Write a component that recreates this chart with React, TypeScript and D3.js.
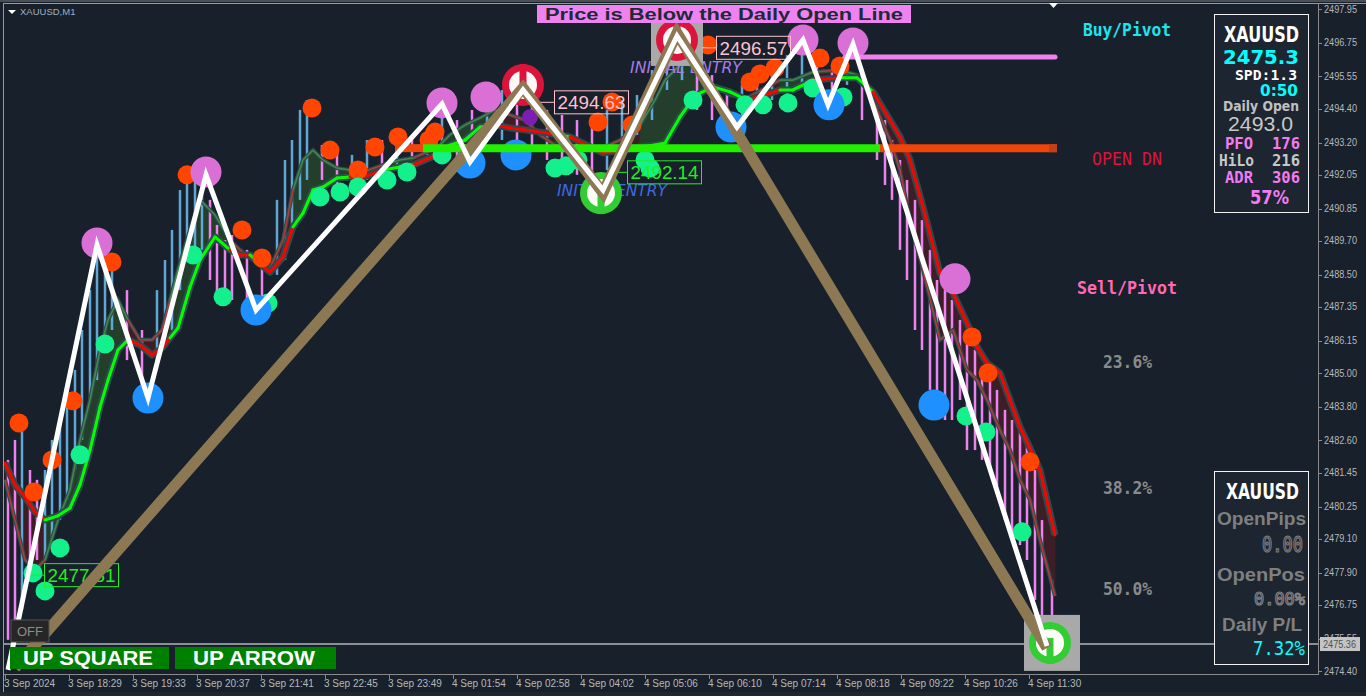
import React from "react";
import * as d3 from "d3";

// ---------- axes ----------
const priceTicks = [2497.95, 2496.75, 2495.55, 2494.4, 2493.2, 2492.05, 2490.85, 2489.7, 2488.5, 2487.35, 2486.15, 2485.0, 2483.8, 2482.6, 2481.45, 2480.25, 2479.1, 2477.9, 2476.75, 2475.55, 2474.4];
const timeTickBars = [0, 64, 128, 192, 256, 320, 384, 448, 512, 576, 640, 704, 768, 832, 896, 960, 1024];
const timeLabels = ["3 Sep 2024", "3 Sep 18:29", "3 Sep 19:33", "3 Sep 20:37", "3 Sep 21:41", "3 Sep 22:45", "3 Sep 23:49", "4 Sep 01:54", "4 Sep 02:58", "4 Sep 04:02", "4 Sep 05:06", "4 Sep 06:10", "4 Sep 07:14", "4 Sep 08:18", "4 Sep 09:22", "4 Sep 10:26", "4 Sep 11:30"];
const currentPrice = 2475.36;

// ---------- price bars ----------
const barIdx = [3, 10, 17, 25, 32, 40, 47, 55, 62, 70, 77, 85, 92, 100, 107, 122, 137, 152, 160, 167, 175, 182, 190, 197, 205, 212, 220, 227, 242, 257, 272, 280, 287, 295, 302, 317, 332, 347, 362, 377, 392, 407, 422, 437, 452, 467, 482, 497, 512, 527, 542, 557, 572, 587, 602, 617, 632, 647, 662, 677, 692, 707, 722, 737, 752, 767, 782, 797, 812, 827, 842, 857, 872, 880, 887, 895, 902, 910, 917, 925, 932, 940, 947, 955, 962, 970, 977, 985, 992, 1000, 1007, 1015, 1022, 1030, 1037, 1047];
const barHigh = [2481.91, 2482.62, 2483.33, 2481.55, 2481.2, 2481.55, 2482.62, 2483.33, 2484.22, 2485.11, 2486.53, 2487.95, 2489.38, 2488.67, 2489.09, 2487.95, 2486.53, 2487.95, 2489.02, 2490.09, 2491.51, 2492.22, 2491.87, 2492.05, 2491.16, 2490.27, 2489.73, 2489.91, 2489.38, 2489.2, 2491.16, 2492.58, 2493.29, 2494.36, 2494.71, 2493.11, 2492.93, 2492.76, 2493.29, 2493.29, 2493.65, 2493.29, 2493.65, 2494.54, 2494.0, 2494.36, 2494.71, 2495.07, 2495.07, 2494.54, 2494.36, 2494.18, 2494.0, 2494.0, 2494.36, 2494.71, 2494.89, 2495.78, 2496.49, 2496.67, 2496.14, 2495.6, 2495.07, 2495.25, 2495.42, 2495.96, 2496.31, 2496.67, 2496.14, 2495.78, 2496.56, 2495.6, 2494.54, 2494.0, 2493.29, 2492.58, 2491.87, 2491.16, 2490.44, 2489.38, 2488.31, 2487.95, 2487.6, 2486.89, 2486.18, 2485.82, 2485.11, 2484.75, 2484.4, 2483.69, 2483.33, 2482.97, 2482.62, 2481.55, 2479.77, 2477.64];
const barLow = [2475.51, 2476.22, 2476.57, 2477.64, 2478.35, 2478.35, 2479.06, 2479.77, 2480.48, 2481.55, 2482.62, 2484.04, 2484.75, 2486.18, 2486.53, 2485.46, 2484.22, 2485.46, 2486.18, 2486.53, 2487.95, 2489.02, 2489.38, 2489.38, 2488.31, 2487.78, 2487.6, 2487.6, 2487.24, 2487.6, 2488.49, 2489.02, 2490.09, 2491.16, 2491.87, 2491.87, 2491.69, 2491.69, 2491.87, 2492.05, 2492.4, 2492.58, 2492.76, 2492.93, 2492.58, 2492.22, 2493.47, 2493.29, 2492.93, 2493.11, 2492.58, 2492.4, 2492.05, 2491.69, 2492.22, 2493.11, 2493.47, 2494.0, 2495.07, 2495.42, 2494.36, 2494.0, 2493.65, 2494.0, 2494.36, 2494.71, 2494.89, 2495.25, 2495.07, 2494.36, 2495.25, 2494.0, 2492.58, 2491.69, 2491.16, 2489.38, 2488.31, 2486.53, 2485.82, 2484.4, 2484.04, 2483.33, 2483.33, 2484.04, 2482.26, 2482.26, 2481.91, 2481.55, 2480.84, 2479.77, 2479.06, 2478.88, 2478.35, 2476.93, 2476.22, 2475.51];
const barUp = [0, 0, 1, 0, 0, 1, 1, 1, 1, 1, 1, 1, 1, 1, 1, 0, 0, 1, 1, 1, 1, 1, 1, 1, 0, 0, 0, 0, 0, 0, 1, 1, 1, 1, 1, 0, 0, 1, 1, 0, 1, 0, 1, 1, 0, 0, 1, 1, 0, 0, 0, 0, 0, 0, 1, 1, 1, 1, 1, 1, 0, 0, 0, 1, 1, 1, 1, 1, 0, 0, 1, 0, 0, 0, 0, 0, 0, 0, 0, 0, 0, 0, 0, 0, 0, 0, 0, 0, 0, 0, 0, 0, 0, 0, 0, 0];

// ---------- trend band ----------
const trendBar = [0, 10, 20, 30, 40, 53, 65, 75, 85, 95, 103, 113, 123, 135, 147, 157, 165, 173, 185, 195, 210, 225, 235, 245, 255, 265, 278, 288, 298, 308, 318, 332, 345, 358, 378, 395, 408, 432, 445, 460, 475, 490, 505, 520, 535, 550, 565, 582, 598, 615, 635, 650, 660, 675, 682, 695, 708, 725, 742, 760, 775, 788, 808, 835, 852, 868, 885, 895, 905, 918, 935, 948, 962, 972, 982, 995, 1005, 1015, 1025, 1035, 1050];
const trendPrice = [2481.8, 2481.02, 2480.59, 2480.06, 2479.77, 2479.92, 2480.2, 2481.02, 2482.26, 2483.79, 2484.75, 2485.82, 2486.18, 2486.0, 2485.64, 2485.89, 2486.25, 2486.6, 2488.06, 2489.02, 2489.84, 2489.38, 2489.2, 2489.2, 2488.88, 2488.59, 2489.13, 2490.2, 2490.69, 2491.51, 2491.62, 2491.94, 2491.97, 2491.97, 2492.22, 2492.33, 2492.4, 2492.76, 2493.11, 2493.29, 2493.75, 2493.82, 2493.72, 2493.65, 2493.57, 2493.5, 2493.4, 2493.11, 2492.83, 2492.93, 2493.04, 2493.11, 2493.18, 2494.11, 2494.46, 2494.96, 2495.18, 2495.0, 2494.71, 2494.89, 2495.07, 2495.07, 2495.42, 2495.5, 2495.5, 2495.0, 2494.0, 2493.4, 2492.58, 2490.91, 2488.56, 2487.85, 2486.78, 2485.93, 2485.36, 2485.0, 2484.04, 2483.08, 2482.33, 2481.55, 2479.24];
const signalPrice = [2481.2, 2479.77, 2478.35, 2478.0, 2478.35, 2479.77, 2480.84, 2482.62, 2484.04, 2485.82, 2486.89, 2487.6, 2486.89, 2486.18, 2486.18, 2486.53, 2487.6, 2488.67, 2490.09, 2491.16, 2490.62, 2489.73, 2489.38, 2489.09, 2488.95, 2488.74, 2489.73, 2491.51, 2492.58, 2492.93, 2492.58, 2492.29, 2492.22, 2492.15, 2492.4, 2492.58, 2492.65, 2493.01, 2493.47, 2493.82, 2494.07, 2494.36, 2494.18, 2494.0, 2493.47, 2493.11, 2492.93, 2492.93, 2493.01, 2493.29, 2493.82, 2494.71, 2495.42, 2495.96, 2496.06, 2495.6, 2495.25, 2494.89, 2494.78, 2495.14, 2495.42, 2495.42, 2495.71, 2495.78, 2495.6, 2494.71, 2493.29, 2492.22, 2490.44, 2488.67, 2486.18, 2486.53, 2485.11, 2484.75, 2484.04, 2482.97, 2482.26, 2481.2, 2480.49, 2479.06, 2477.07];
const trendDir = "dddduuuuuuuudddduuuuudduddduuuuudduuduuuuddddudddduuuuuuuudduuduuddddddddddddddddd";

// ---------- signal dots ----------
const orangeDots = [[14, 2483.22], [29, 2480.77], [47, 2481.91], [68, 2484.01], [107, 2488.95], [182, 2492.05], [237, 2490.09], [257, 2489.09], [307, 2494.43], [325, 2492.93], [353, 2492.22], [370, 2493.04], [393, 2493.4], [424, 2493.29], [430, 2493.57], [593, 2493.93], [607, 2494.64], [627, 2493.82], [703, 2496.67], [745, 2495.35], [755, 2495.64], [770, 2495.85], [815, 2496.21], [835, 2495.92], [967, 2486.28], [983, 2485.0], [1025, 2481.84]];
const greenDots = [[28, 2477.89], [40, 2477.25], [55, 2478.78], [75, 2482.09], [100, 2486.03], [188, 2489.2], [218, 2487.71], [263, 2487.49], [315, 2491.26], [335, 2491.44], [353, 2491.62], [382, 2491.87], [402, 2492.15], [437, 2492.76], [550, 2492.29], [561, 2492.37], [573, 2492.58], [640, 2492.58], [645, 2492.29], [688, 2494.71], [740, 2494.54], [758, 2494.54], [783, 2494.61], [808, 2495.14], [838, 2494.82], [961, 2483.47], [981, 2482.9], [1017, 2479.35]];
const blueDots = [[143, 2484.11], [251, 2487.24], [465, 2492.47], [511, 2492.76], [726, 2493.75], [824, 2494.54], [929, 2483.86]];
const violetDots = [[92, 2489.63], [201, 2492.15], [437, 2494.61], [481, 2494.82], [798, 2496.85], [848, 2496.74], [950, 2488.35]];
const purpleDots = [[525, 2494.1]];

// ---------- zigzags ----------
const whiteZigBar = [3, 92, 143, 201, 251, 437, 465, 518, 598, 672, 732, 798, 823, 848, 1042];
const whiteZigPrice = [2474.44, 2489.56, 2484.11, 2492.05, 2487.24, 2494.57, 2492.51, 2495.07, 2491.51, 2496.99, 2493.75, 2496.85, 2494.54, 2496.7, 2475.29];
const tanZigBar = [10, 518, 598, 672, 1042];
const tanZigPrice = [2474.51, 2495.14, 2491.41, 2497.1, 2475.22];

// ---------- entries ----------
const sellEntryBar = [518, 672];
const sellEntryPrice = [2495.25, 2496.85];
const sellEntryBoxed = [false, true];
const buyEntryBar = [596, 1045];
const buyEntryPrice = [2491.4, 2475.4];
const buyEntryBoxed = [false, true];
const entryTextBar = [681, 607];
const entryTextPrice = [2495.87, 2491.48];

const priceLabelBar = [535, 697, 608, 25];
const priceLabelValue = [2494.63, 2496.57, 2492.14, 2477.81];
const priceLabelSide = ["sell", "sell", "buy", "buy"];

// ---------- levels ----------
const pivotLinePrice = 2496.24;
const pivotLineBars = [840, 1050];
const dailyOpen = 2493.0;
const dailyOpenSegStart = [390, 418, 875];
const dailyOpenSegEnd = [418, 875, 1052];
const dailyOpenSegUp = [0, 1, 0];

const levelTexts = ["Buy/Pivot", "OPEN DN", "Sell/Pivot", "23.6%", "38.2%", "50.0%"];
const levelPrices = [2497.22, 2492.6, 2488.04, 2485.39, 2480.91, 2477.3];

const BG = "#17202b";
const MONO = "'DejaVu Sans Mono', monospace";
const SANS = "'Liberation Sans', Arial, sans-serif";
const DJ = "'DejaVu Sans', sans-serif";

export default function App() {
  const x = d3.scaleLinear().domain([0, 1313]).range([5, 1318]);
  const y = d3.scaleLinear().domain([2474.4, 2497.95]).range([671, 9]);
  const line = d3.line<[number, number]>();

  const tPts: [number, number][] = trendBar.map((b, i) => [x(b), y(trendPrice[i])]);
  const sPts: [number, number][] = trendBar.map((b, i) => [x(b), y(signalPrice[i])]);
  const segs = trendBar.slice(0, -1).map((_, i) => ({
    up: trendDir[i] === "u",
    band: `M${tPts[i]}L${tPts[i + 1]}L${sPts[i + 1]}L${sPts[i]}Z`,
    t: line([tPts[i], tPts[i + 1]]) as string,
    s: line([sPts[i], sPts[i + 1]]) as string,
  }));

  const whitePath = line(whiteZigBar.map((b, i) => [x(b), y(whiteZigPrice[i])] as [number, number])) as string;
  const tanPath = line(tanZigBar.map((b, i) => [x(b), y(tanZigPrice[i])] as [number, number])) as string;

  const dots = (arr: number[][], r: number, fill: string) =>
    arr.map((d, i) => <circle key={fill + i} cx={x(d[0])} cy={y(d[1])} r={r} fill={fill} />);

  const cy = y(currentPrice);
  const nBars = Math.min(barIdx.length, barHigh.length, barLow.length, barUp.length);

  return (
    <svg width={1366} height={696} style={{ position: "fixed", left: 0, top: 0, display: "block" }}>
      <defs>
        <clipPath id="plot">
          <rect x={4} y={4} width={1314} height={670} />
        </clipPath>
      </defs>
      <rect x={0} y={0} width={1366} height={696} fill={BG} />
      {/* window frame */}
      <line x1={0} y1={1} x2={1366} y2={1} stroke="#4a4f55" strokeWidth={2} />
      <line x1={3} y1={3.5} x2={1366} y2={3.5} stroke="#9a9a9a" strokeWidth={1} />
      <line x1={3.5} y1={3} x2={3.5} y2={696} stroke="#9a9a9a" strokeWidth={1} />
      <rect x={0} y={692} width={1366} height={4} fill="#1f2730" />

      <g clipPath="url(#plot)">
        {/* band fill */}
        {segs.map((s, i) => (
          <path key={"b" + i} d={s.band} fill={s.up ? "#233f2b" : "#3d1e27"} stroke={s.up ? "#233f2b" : "#3d1e27"} strokeWidth={0.8} />
        ))}
        {/* price bars */}
        {barIdx.slice(0, nBars).map((b, i) => (
          <line key={"bar" + i} x1={x(b)} x2={x(b)} y1={y(barHigh[i])} y2={y(barLow[i])}
            stroke={barUp[i] ? "#62a6d4" : "#ee82ee"} strokeWidth={2.5} />
        ))}
        {/* signal line */}
        <path d={line(sPts) as string} fill="none" stroke="#2d4b4b" strokeWidth={4} />
        {segs.map((s, i) => (
          <path key={"s" + i} d={s.s} fill="none" stroke={s.up ? "#3f8a48" : "#b03b3b"} strokeWidth={1.6} />
        ))}
        {/* trend line */}
        <path d={line(tPts) as string} fill="none" stroke="#2d4b4b" strokeWidth={7} strokeLinejoin="round" />
        {segs.map((s, i) => (
          <path key={"t" + i} d={s.t} fill="none" stroke={s.up ? "#00ff00" : "#ff0000"} strokeWidth={3} strokeLinecap="round" />
        ))}

        {/* dots */}
        {dots(orangeDots, 9.5, "#ff4500")}
        {dots(greenDots, 9.5, "#14f08c")}
        {dots(purpleDots, 8, "#7a1fb0")}
        {dots(blueDots, 15.5, "#1e90ff")}
        {dots(violetDots, 15.5, "#da70d6")}

        {/* horizontal levels */}
        <line x1={x(pivotLineBars[0])} x2={x(pivotLineBars[1])} y1={y(pivotLinePrice)} y2={y(pivotLinePrice)}
          stroke="#ee82ee" strokeWidth={5} strokeLinecap="round" />
        {dailyOpenSegStart.map((s, i) => (
          <line key={"do" + i} x1={x(s)} x2={x(dailyOpenSegEnd[i])} y1={y(dailyOpen)} y2={y(dailyOpen)}
            stroke={dailyOpenSegUp[i] ? "#22f000" : "#f0450a"} strokeWidth={8} />
        ))}
        <rect x={x(dailyOpenSegEnd[2]) - 8} y={y(dailyOpen) - 4} width={8} height={8} fill="#c0401a" />

        {/* entry texts */}
        {entryTextBar.map((b, i) => (
          <text key={"et" + i} x={x(b)} y={y(entryTextPrice[i]) + 5.5} textAnchor="middle" fontFamily={DJ}
            fontStyle="italic" fontSize={15} fill={i === 0 ? "#a77be6" : "#4169e1"} textLength={i === 0 ? 112 : 110}
            lengthAdjust="spacingAndGlyphs">INITIAL ENTRY</text>
        ))}

        {/* current price line */}
        <line x1={4} x2={1318} y1={cy} y2={cy} stroke="#ffffff" strokeWidth={1} />

        {/* entry icons */}
        {sellEntryBar.map((b, i) => {
          const ix = x(b), iy = y(sellEntryPrice[i]);
          return (
            <g key={"se" + i}>
              {sellEntryBoxed[i] && <rect x={ix - 26} y={iy - 26} width={52} height={52} fill="#a9a9a9" />}
              <circle cx={ix} cy={iy} r={21} fill="#dc143c" />
              <circle cx={ix} cy={iy} r={14} fill="#fff8f8" />
              <rect x={ix - 3.5} y={iy - 21} width={7} height={26} fill="#dc143c" />
            </g>
          );
        })}
        {buyEntryBar.map((b, i) => {
          const ix = x(b), iy = y(buyEntryPrice[i]);
          return (
            <g key={"be" + i}>
              {buyEntryBoxed[i] && <rect x={ix - 26} y={iy - 28} width={56} height={56} fill="#a9a9a9" />}
              <circle cx={ix} cy={iy} r={21} fill="#32cd32" />
              <circle cx={ix} cy={iy} r={14} fill="#fffff8" />
              <rect x={ix - 3.5} y={iy - 5} width={7} height={26} fill="#32cd32" />
            </g>
          );
        })}

        {/* price labels */}
        {priceLabelBar.map((b, i) => {
          const ax = x(b), ay = y(priceLabelValue[i]);
          const col = priceLabelSide[i] === "sell" ? "#ffc0cb" : "#22ee22";
          return (
            <g key={"pl" + i}>
              <line x1={ax} x2={ax + 14} y1={ay} y2={ay} stroke={col} strokeWidth={1} />
              <rect x={ax + 14.5} y={ay - 11.5} width={74} height={23} fill="none" stroke={col} strokeWidth={1} />
              <text x={ax + 51.5} y={ay + 7} textAnchor="middle" fontFamily={SANS} fontSize={19} fill={col}
                textLength={68} lengthAdjust="spacingAndGlyphs">{priceLabelValue[i].toFixed(2)}</text>
            </g>
          );
        })}

        {/* zigzags */}
        <path d={tanPath} fill="none" stroke="#8c7853" strokeWidth={11} strokeLinejoin="miter" />
        <path d={whitePath} fill="none" stroke="#ffffff" strokeWidth={5} strokeLinejoin="miter" />
      </g>

      {/* axes */}
      <line x1={1318.5} y1={3} x2={1318.5} y2={675} stroke="#8a8a8a" />
      <line x1={4} y1={674.5} x2={1319} y2={674.5} stroke="#8a8a8a" />
      {priceTicks.map((p, i) => (
        <g key={"yt" + i}>
          <line x1={1319} x2={1322} y1={Math.round(y(p)) + 0.5} y2={Math.round(y(p)) + 0.5} stroke="#8a8a8a" />
          <text x={1324} y={y(p) + 3.5} fontFamily={SANS} fontSize={10} fill="#b8b8b8" textLength={33}
            lengthAdjust="spacingAndGlyphs">{p.toFixed(2)}</text>
        </g>
      ))}
      {timeTickBars.map((b, i) => (
        <g key={"xt" + i}>
          <line x1={Math.round(x(b)) + 0.5} x2={Math.round(x(b)) + 0.5} y1={675} y2={679} stroke="#8a8a8a" />
          <text x={x(b) - 1} y={687} fontFamily={SANS} fontSize={10} fill="#b8b8b8">{timeLabels[i]}</text>
        </g>
      ))}
      <rect x={1320} y={cy - 7} width={40} height={14} fill="#c4c4c4" />
      <text x={1323} y={cy + 4} fontFamily={SANS} fontSize={10} fill="#505050" textLength={33}
        lengthAdjust="spacingAndGlyphs">{currentPrice.toFixed(2)}</text>

      {/* header */}
      <polygon points="8,10 16,10 12,14" fill="#ffffff" />
      <text x={20} y={15} fontFamily={SANS} fontSize={9.5} fill="#9fb0c0">XAUUSD,M1</text>
      <polygon points="1049,3 1058,3 1053.5,8" fill="#ffffff" />
      <rect x={537} y={5} width={374} height={18} fill="#ee82ee" />
      <text x={545} y={20} fontFamily={SANS} fontWeight="bold" fontSize={16} fill="#1e2a38" textLength={358}
        lengthAdjust="spacingAndGlyphs">Price is Below the Daily Open Line</text>

      {/* level texts */}
      {levelTexts.map((t, i) => {
        const cols = ["#1fe5ef", "#dc143c", "#ff69b4", "#8a8a8a", "#8a8a8a", "#8a8a8a"];
        const lens = [88, 70, 100, 49, 49, 49];
        const xs = [1083, 1092, 1077, 1103, 1103, 1103];
        return (
          <text key={"lv" + i} x={xs[i]} y={y(levelPrices[i]) + 6} fontFamily={MONO} fontWeight={i === 1 ? "normal" : "bold"}
            fontSize={17} fill={cols[i]} textLength={lens[i]} lengthAdjust="spacingAndGlyphs">{t}</text>
        );
      })}

      {/* top info panel */}
      <rect x={1214.5} y={14.5} width={94} height={198} fill="#1c2530" stroke="#f2f2f2" strokeWidth={1} />
      <text x={1224} y={42} fontFamily={DJ} fontWeight="bold" fontSize={22} fill="#ffffff" textLength={75} lengthAdjust="spacingAndGlyphs">XAUUSD</text>
      <text x={1223} y={64} fontFamily={DJ} fontWeight="bold" fontSize={20} fill="#00ffff" textLength={76} lengthAdjust="spacingAndGlyphs">2475.3</text>
      <text x={1235} y={80} fontFamily={MONO} fontWeight="bold" fontSize={14} fill="#ffffff" textLength={62} lengthAdjust="spacingAndGlyphs">SPD:1.3</text>
      <text x={1260} y={96} fontFamily={DJ} fontWeight="bold" fontSize={16} fill="#00ffff" textLength={38} lengthAdjust="spacingAndGlyphs">0:50</text>
      <text x={1223} y={111} fontFamily={DJ} fontWeight="bold" fontSize={14} fill="#c0c0c0" textLength={76} lengthAdjust="spacingAndGlyphs">Daily Open</text>
      <text x={1228} y={131} fontFamily={SANS} fontSize={21} fill="#c8c8c8" textLength={65} lengthAdjust="spacingAndGlyphs">2493.0</text>
      <text x={1225} y={149} fontFamily={MONO} fontWeight="bold" fontSize={16} fill="#f07cf0" textLength={28} lengthAdjust="spacingAndGlyphs">PFO</text>
      <text x={1272} y={149} fontFamily={MONO} fontWeight="bold" fontSize={16} fill="#f07cf0" textLength={28} lengthAdjust="spacingAndGlyphs">176</text>
      <text x={1219} y={166} fontFamily={MONO} fontWeight="bold" fontSize={16} fill="#c8c8c8" textLength={35} lengthAdjust="spacingAndGlyphs">HiLo</text>
      <text x={1272} y={166} fontFamily={MONO} fontWeight="bold" fontSize={16} fill="#c8c8c8" textLength={28} lengthAdjust="spacingAndGlyphs">216</text>
      <text x={1225} y={183} fontFamily={MONO} fontWeight="bold" fontSize={16} fill="#f07cf0" textLength={28} lengthAdjust="spacingAndGlyphs">ADR</text>
      <text x={1272} y={183} fontFamily={MONO} fontWeight="bold" fontSize={16} fill="#f07cf0" textLength={28} lengthAdjust="spacingAndGlyphs">306</text>
      <text x={1250} y={204} fontFamily={DJ} fontWeight="bold" fontSize={19} fill="#f07cf0" textLength={39} lengthAdjust="spacingAndGlyphs">57%</text>

      {/* bottom info panel */}
      <rect x={1214.5} y={471.5} width={94} height={193} fill="#1c2530" stroke="#f2f2f2" strokeWidth={1} />
      <text x={1226} y={499} fontFamily={DJ} fontWeight="bold" fontSize={22} fill="#ffffff" textLength={73} lengthAdjust="spacingAndGlyphs">XAUUSD</text>
      <text x={1217} y={525} fontFamily={SANS} fontWeight="bold" fontSize={18} fill="#7f7f7f" textLength={89} lengthAdjust="spacingAndGlyphs">OpenPips</text>
      <text x={1262} y={552} fontFamily={MONO} fontSize={21} fill="none" stroke="#808080" strokeWidth={1.2} textLength={41} lengthAdjust="spacingAndGlyphs">0.00</text>
      <text x={1217} y={581} fontFamily={SANS} fontWeight="bold" fontSize={18} fill="#7f7f7f" textLength={88} lengthAdjust="spacingAndGlyphs">OpenPos</text>
      <text x={1254} y={605} fontFamily={MONO} fontSize={18} fill="none" stroke="#808080" strokeWidth={1.2} textLength={51} lengthAdjust="spacingAndGlyphs">0.00%</text>
      <text x={1222} y={631} fontFamily={SANS} fontWeight="bold" fontSize={18} fill="#7f7f7f" textLength={80} lengthAdjust="spacingAndGlyphs">Daily P/L</text>
      <text x={1253} y={655} fontFamily={MONO} fontSize={19} fill="#00ffff" textLength={52} lengthAdjust="spacingAndGlyphs">7.32%</text>

      {/* buttons */}
      <rect x={11} y={620} width={38} height={22} fill="#262626" stroke="#555555" />
      <text x={17} y={636} fontFamily={SANS} fontSize={13} fill="#8c8c8c" textLength={26} lengthAdjust="spacingAndGlyphs">OFF</text>
      <rect x={10} y={647} width={159} height={22} fill="#008000" />
      <text x={23} y={665} fontFamily={SANS} fontWeight="bold" fontSize={20} fill="#ffffff" textLength={130} lengthAdjust="spacingAndGlyphs">UP SQUARE</text>
      <rect x={175} y={647} width={161} height={22} fill="#008000" />
      <text x={193} y={665} fontFamily={SANS} fontWeight="bold" fontSize={20} fill="#ffffff" textLength={122} lengthAdjust="spacingAndGlyphs">UP ARROW</text>
    </svg>
  );
}
